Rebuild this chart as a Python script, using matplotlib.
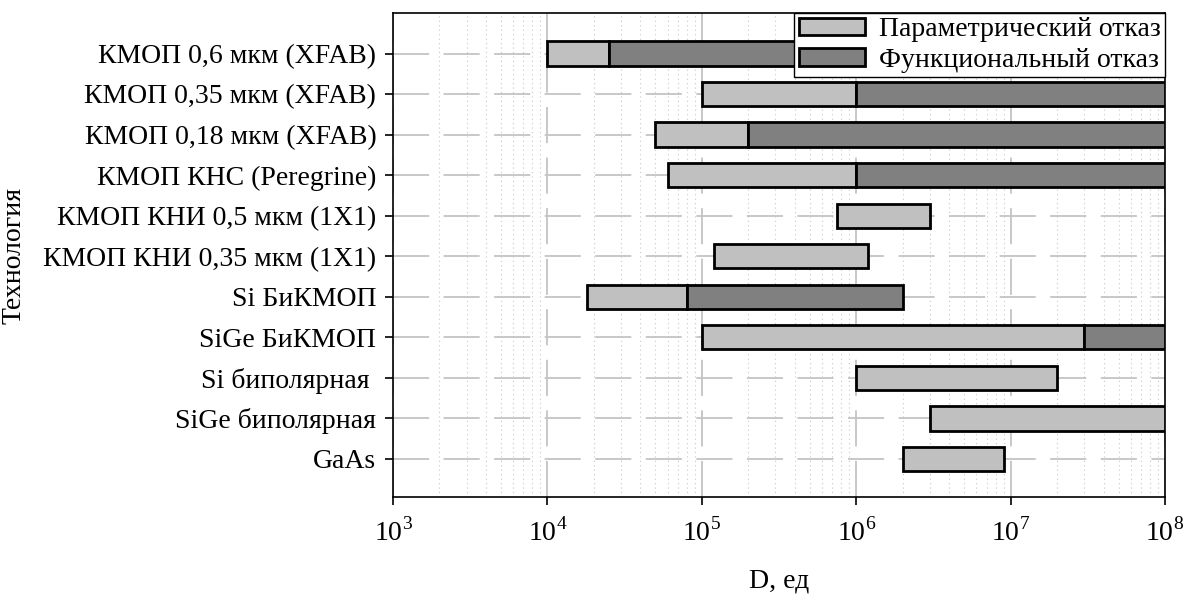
import numpy as np
import matplotlib.pyplot as plt
from matplotlib.patches import Patch

plt.rcParams['font.family'] = ['Liberation Serif', 'DejaVu Serif']
plt.rcParams['mathtext.fontset'] = 'custom'
plt.rcParams['mathtext.rm'] = 'Liberation Serif'

labels = ['КМОП 0,6 мкм (XFAB)', 'КМОП 0,35 мкм (XFAB)', 'КМОП 0,18 мкм (XFAB)',
          'КМОП КНС (Peregrine)', 'КМОП КНИ 0,5 мкм (1X1)', 'КМОП КНИ 0,35 мкм (1X1)',
          'Si БиКМОП', 'SiGe БиКМОП', 'Si биполярная ', 'SiGe биполярная', 'GaAs']
# start of parametric failure, start of functional failure, end of bar
param_start = [1e4, 1e5, 5e4, 6e4, 7.5e5, 1.2e5, 1.8e4, 1e5, 1e6, 3e6, 2e6]
func_start = [2.5e4, 1e6, 2e5, 1e6, None, None, 8e4, 3e7, None, None, None]
bar_end = [1e8, 1e8, 1e8, 1e8, 3e6, 1.2e6, 2e6, 1e8, 2e7, 1e8, 9e6]

light = '#c0c0c0'
dark = '#808080'

fig = plt.figure(figsize=(11.84, 5.95), dpi=100)
ax = fig.add_axes([393/1184, 1-497/595, (1165-393)/1184, (497-13)/595])

y = np.arange(len(labels))
h = 0.6
for i in y:
    p_end = func_start[i] if func_start[i] else bar_end[i]
    ax.barh(i, p_end - param_start[i], left=param_start[i], height=h,
            color=light, edgecolor='black', linewidth=2, zorder=3)
    if func_start[i]:
        ax.barh(i, bar_end[i] - func_start[i], left=func_start[i], height=h,
                color=dark, edgecolor='black', linewidth=2, zorder=3)

fs = 20
ax.set_xscale('log')
ax.set_xlim(1e3, 1e8)
ax.set_ylim(10.94, -1.0)
ax.set_yticks(y)
ax.set_yticklabels(labels, fontsize=fs)
ax.set_xticks([1e3, 1e4, 1e5, 1e6, 1e7, 1e8])
ax.set_xticklabels(['$10^{%d}$' % k for k in range(3, 9)], fontsize=fs)
ax.tick_params(axis='x', which='major', length=6, width=1.2, pad=9)
ax.tick_params(axis='x', which='minor', length=0)
ax.tick_params(axis='y', length=6, width=1.2, pad=6)

ax.grid(axis='x', which='major', color='#c4c4c4', linestyle=(0, (20, 8)), linewidth=1.3, zorder=0)
ax.grid(axis='x', which='minor', color='#c8c8c8', linestyle=(0, (1, 3)), linewidth=0.8, zorder=0)
ax.grid(axis='y', which='major', color='#c4c4c4', linestyle=(0, (20, 8)), linewidth=1.3, zorder=0)
ax.set_axisbelow(True)

for s in ax.spines.values():
    s.set_linewidth(1.2)

ax.set_xlabel('D, ед', fontsize=fs, labelpad=16)
ax.set_ylabel('Технология', fontsize=fs, labelpad=12)

handles = [Patch(facecolor=light, edgecolor='black', linewidth=2, label='Параметрический отказ'),
           Patch(facecolor=dark, edgecolor='black', linewidth=2, label='Функциональный отказ')]
leg = ax.legend(handles=handles, loc='upper right', fontsize=fs, fancybox=False,
                framealpha=1, edgecolor='black', borderaxespad=0, handlelength=2.4,
                handleheight=0.6, borderpad=0.15, labelspacing=0.2, handletextpad=0.5)
leg.get_frame().set_linewidth(1)
leg.set_zorder(5)

fig.savefig('out.png', dpi=100)
